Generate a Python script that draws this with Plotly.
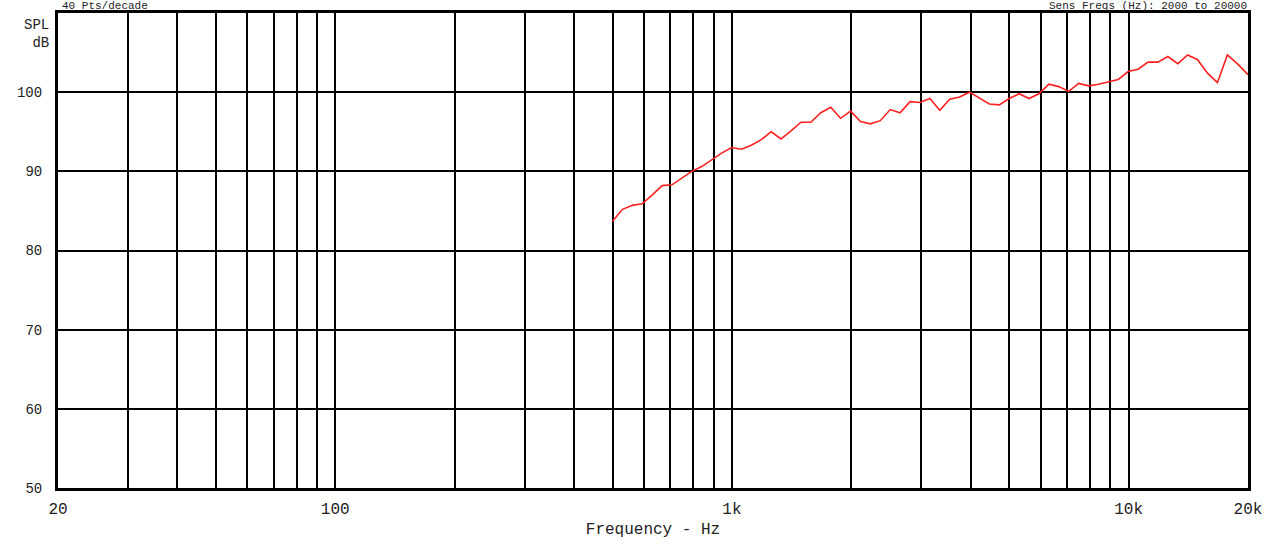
import plotly.graph_objects as go

freq_hz = [500, 530, 561, 594, 629, 667, 706, 748, 792, 839,
           889, 942, 998, 1057, 1119, 1186, 1256, 1330, 1409, 1493,
           1581, 1675, 1774, 1879, 1991, 2109, 2233, 2366, 2506, 2654,
           2812, 2978, 3155, 3342, 3540, 3749, 3972, 4207, 4456, 4720,
           5000, 5297, 5610, 5943, 6295, 6668, 7063, 7482, 7924, 8395,
           8891, 9418, 9976, 10567, 11193, 11857, 12559, 13304, 14092, 14927,
           15811, 16749, 17741, 18793, 20000]
spl_db = [83.7, 85.2, 85.7, 85.9, 87.0, 88.2, 88.3, 89.2, 90.0, 90.6,
          91.5, 92.3, 93.0, 92.8, 93.3, 94.0, 95.0, 94.1, 95.1, 96.2,
          96.2, 97.4, 98.1, 96.7, 97.6, 96.3, 96.0, 96.4, 97.8, 97.4,
          98.8, 98.7, 99.2, 97.7, 99.1, 99.4, 100.0, 99.2, 98.5, 98.4,
          99.2, 99.8, 99.2, 99.8, 101.0, 100.7, 100.1, 101.1, 100.8, 101.0,
          101.3, 101.6, 102.6, 102.9, 103.8, 103.8, 104.5, 103.6, 104.7, 104.1,
          102.4, 101.2, 104.7, 103.6, 102.2]

x_grid = [20, 30, 40, 50, 60, 70, 80, 90, 100, 200, 300, 400, 500, 600, 700, 800, 900,
          1000, 2000, 3000, 4000, 5000, 6000, 7000, 8000, 9000, 10000, 20000]
x_labels = {20: "20", 100: "100", 1000: "1k", 10000: "10k", 20000: "20k"}
y_ticks = [50, 60, 70, 80, 90, 100]

FONT = "Liberation Mono, Courier New, monospace"
TXT = "#222222"

fig = go.Figure()
fig.add_trace(go.Scatter(x=freq_hz, y=spl_db, mode="lines",
                         line=dict(color="#ff2020", width=1.6), hoverinfo="x+y",
                         showlegend=False))

fig.update_layout(
    width=1273, height=550,
    margin=dict(l=58, r=25, t=13, b=62, autoexpand=False),
    paper_bgcolor="white", plot_bgcolor="white",
    font=dict(family=FONT, color=TXT),
    xaxis=dict(type="log", range=[1.30103, 4.30103], automargin=False,
               tickvals=x_grid, ticktext=[x_labels.get(v, "") for v in x_grid],
               tickfont=dict(size=16, family=FONT, color=TXT), ticklabelstandoff=4,
               showgrid=True, gridcolor="black", gridwidth=2,
               showline=True, linecolor="black", linewidth=3, mirror=True,
               ticks="", zeroline=False,
               title=dict(text="Frequency - Hz", font=dict(size=16, family=FONT, color=TXT), standoff=5)),
    yaxis=dict(range=[50, 110], tickvals=y_ticks, automargin=False,
               tickfont=dict(size=14, family=FONT, color=TXT), ticklabelstandoff=10,
               showgrid=True, gridcolor="black", gridwidth=2,
               showline=True, linecolor="black", linewidth=3, mirror=True,
               ticks="", zeroline=False),
)

fig.add_annotation(text="SPL<br>dB", xref="paper", yref="paper", x=0, y=1,
                   xanchor="right", yanchor="top", align="right", xshift=-7, yshift=-2,
                   showarrow=False, font=dict(size=14, family=FONT, color=TXT))
fig.add_annotation(text="40 Pts/decade", xref="paper", yref="paper", x=0, y=1,
                   xanchor="left", yanchor="bottom", xshift=3, yshift=0, borderpad=0,
                   showarrow=False, font=dict(size=11, family=FONT, color=TXT))
fig.add_annotation(text="Sens Freqs (Hz): 2000 to 20000", xref="paper", yref="paper", x=1, y=1,
                   xanchor="right", yanchor="bottom", xshift=0, yshift=0, borderpad=0,
                   showarrow=False, font=dict(size=11, family=FONT, color=TXT))

fig.write_html("out.html", config={"displayModeBar": False},
               post_script="document.body.style.margin='0';document.body.style.overflow='hidden';")
